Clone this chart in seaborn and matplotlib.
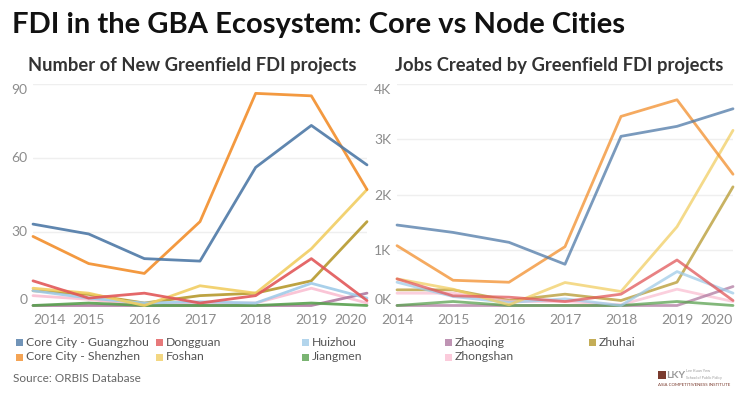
import numpy as np
import pandas as pd
import seaborn as sns
import matplotlib.pyplot as plt
from matplotlib.patches import Rectangle

years = [2014, 2015, 2016, 2017, 2018, 2019, 2020]
cities = ['Core City - Guangzhou', 'Core City - Shenzhen', 'Dongguan', 'Foshan',
          'Huizhou', 'Jiangmen', 'Zhaoqing', 'Zhongshan', 'Zhuhai']
colors = ['#4e79a7', '#f28e2b', '#e15759', '#f1ce63',
          '#a0cbe8', '#59a14f', '#b07aa1', '#fabfd2', '#b6992d']

# number of new greenfield FDI projects
guangzhou_proj = [33, 29, 19, 18, 56, 73, 57]
shenzhen_proj = [28, 17, 13, 34, 86, 85, 47]
dongguan_proj = [10, 3, 5, 1, 4, 19, 2]
foshan_proj = [7, 5, 0, 8, 5, 23, 47]
huizhou_proj = [6, 3, 1, 1.5, 1, 9, 3]
jiangmen_proj = [0, 1, 0, 0, 0, 1, 0]
zhaoqing_proj = [0, 0, 0, 0, 0, 0, 5]
zhongshan_proj = [4, 2.5, 0, 1, 1, 7, 1]
zhuhai_proj = [6, 4.5, 1, 4, 5, 10, 34]

# jobs created
guangzhou_jobs = [1450, 1317, 1138, 743, 3048, 3228, 3545]
shenzhen_jobs = [1078, 455, 419, 1060, 3407, 3707, 2365]
dongguan_jobs = [480, 174, 150, 72, 204, 820, 90]
foshan_jobs = [480, 294, 12, 414, 252, 1419, 3156]
huizhou_jobs = [420, 162, 54, 120, 0, 611, 222]
jiangmen_jobs = [0, 72, 0, 0, 0, 72, 0]
zhaoqing_jobs = [0, 0, 0, 0, 0, 0, 342]
zhongshan_jobs = [222, 222, 72, 72, 12, 294, 72]
zhuhai_jobs = [282, 282, 90, 204, 90, 420, 2138]

proj = [guangzhou_proj, shenzhen_proj, dongguan_proj, foshan_proj, huizhou_proj,
        jiangmen_proj, zhaoqing_proj, zhongshan_proj, zhuhai_proj]
jobs = [guangzhou_jobs, shenzhen_jobs, dongguan_jobs, foshan_jobs, huizhou_jobs,
        jiangmen_jobs, zhaoqing_jobs, zhongshan_jobs, zhuhai_jobs]

rows = []
for c, p, j in zip(cities, proj, jobs):
    for y, pv, jv in zip(years, p, j):
        rows.append({'city': c, 'year': y, 'projects': pv, 'jobs': jv})
df = pd.DataFrame(rows)

sns.set_theme(style='white')
plt.rcParams['font.family'] = ['Lato', 'DejaVu Sans']
palette = dict(zip(cities, colors))

fig = plt.figure(figsize=(7.49, 3.94), dpi=100)
ax1 = fig.add_axes([33 / 749, 1 - 305.5 / 394, 334 / 749, 222 / 394])
ax2 = fig.add_axes([397 / 749, 1 - 305.5 / 394, 336 / 749, 222 / 394])

# small series first, core cities on top
order = cities[::-1]
sns.lineplot(data=df, x='year', y='projects', hue='city', hue_order=order,
             palette=palette, legend=False, ax=ax1, linewidth=2, alpha=0.9)
sns.lineplot(data=df, x='year', y='jobs', hue='city', hue_order=order,
             palette=palette, legend=False, ax=ax2, linewidth=2, alpha=0.75)

tick_col = '#8c8c8c'
for ax, top, yt, ylab in [(ax1, 90, [0, 30, 60, 90], ['0', '30', '60', '90']),
                          (ax2, 4000, [0, 1000, 2000, 3000, 4000],
                           ['0K', '1K', '2K', '3K', '4K'])]:
    ax.set_xlim(2014, 2020)
    ax.set_ylim(0, top)
    ax.set_yticks(yt)
    ax.set_yticklabels(ylab)
    ax.set_xticks(years)
    ax.set_xticklabels([str(y) for y in years])
    ax.set_xlabel('')
    ax.set_ylabel('')
    for s in ax.spines.values():
        s.set_visible(False)
    ax.grid(axis='y', color='#efefef', linewidth=1)
    ax.set_axisbelow(True)
    ax.tick_params(axis='both', length=0, colors=tick_col, labelsize=10)
    ax.tick_params(axis='x', pad=6)
    ax.tick_params(axis='y', pad=4)
    yl = ax.get_yticklabels()
    yl[0].set_va('bottom')
    yl[-1].set_va('top')
    xl = ax.get_xticklabels()
    xl[-1].set_ha('right')
    for line in ax.lines:
        line.set_clip_on(False)

ax1.get_xticklabels()[0].set_ha('left')

fig.text(12 / 749, 1 - 25 / 394, 'FDI in the GBA Ecosystem: Core vs Node Cities',
         fontsize=21, fontweight='bold', color='#111111', va='center', ha='left')
fig.text(192 / 749, 1 - 66 / 394, 'Number of New Greenfield FDI projects',
         fontsize=13.2, fontweight='bold', color='#333333', va='center', ha='center')
fig.text(559 / 749, 1 - 66 / 394, 'Jobs Created by Greenfield FDI projects',
         fontsize=13.2, fontweight='bold', color='#333333', va='center', ha='center')

# legend
col_x = [16, 156, 302, 445, 589]
row_y = [342, 357]
for i, (c, col) in enumerate(zip(cities, colors)):
    x = col_x[i // 2]
    y = row_y[i % 2]
    fig.patches.append(Rectangle((x / 749, 1 - (y + 3.5) / 394), 7 / 749, 7 / 394,
                                 transform=fig.transFigure, facecolor=col,
                                 alpha=0.8, edgecolor='none'))
    fig.text((x + 10) / 749, 1 - y / 394, c, fontsize=8.8, color='#555555',
             va='center', ha='left')

fig.text(13 / 749, 1 - 379 / 394, 'Source: ORBIS Database', fontsize=8.5,
         color='#666666', va='center', ha='left')

# logo
fig.patches.append(Rectangle((658 / 749, 1 - 379 / 394), 8 / 749, 8 / 394,
                             transform=fig.transFigure, facecolor='#7a3b2e',
                             edgecolor='none'))
fig.text(666 / 749, 1 - 375 / 394, 'LKY', fontsize=7.5, fontweight='bold',
         color='#9a9a9a', va='center', ha='left')
fig.text(686 / 749, 1 - 371 / 394, 'Lee Kuan Yew', fontsize=2.8,
         color='#999999', va='center', ha='left')
fig.text(686 / 749, 1 - 378 / 394, 'School of Public Policy', fontsize=2.6,
         color='#999999', va='center', ha='left')
fig.text(658 / 749, 1 - 385 / 394, 'ASIA COMPETITIVENESS INSTITUTE', fontsize=3.2,
         color='#7a3b2e', va='center', ha='left')

fig.savefig('out.png', dpi=100)
